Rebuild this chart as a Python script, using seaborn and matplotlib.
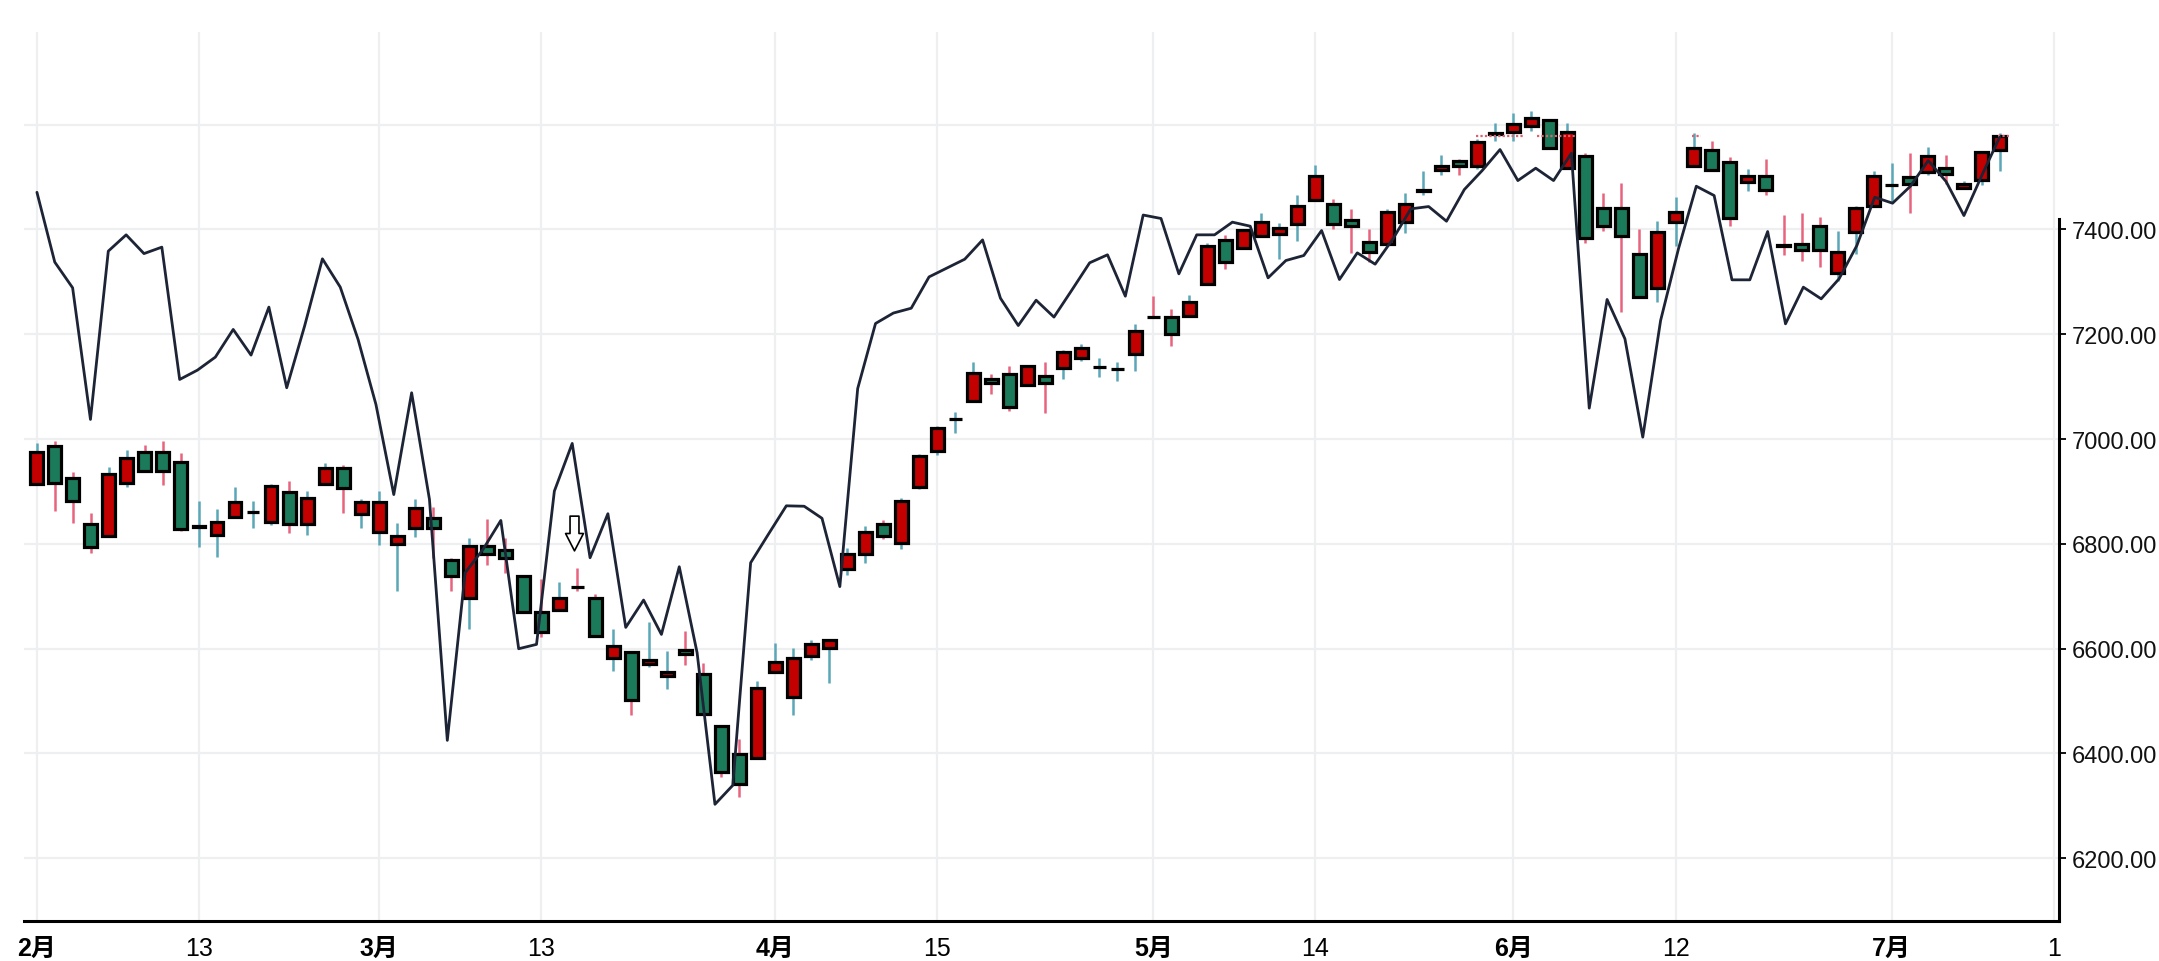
import numpy as np
import matplotlib
matplotlib.use("Agg")
import matplotlib.pyplot as plt
from matplotlib.path import Path
import seaborn as sns

# daily candles (red = up, green = down)
opens = [6914, 6986.5, 6925.5, 6837.7, 6814, 6916.5, 6975, 6975, 6956, 6833,
         6817, 6851.7, 6860.6, 6841.5, 6898.8, 6837.7, 6914, 6944.5, 6856.8, 6822.5,
         6799.5, 6830, 6849, 6769, 6695.8, 6795.6, 6788, 6737.7, 6669, 6673.5,
         6717, 6696.4, 6582, 6593.4, 6569.8, 6547, 6597.3, 6551.4, 6452, 6398.7,
         6391, 6554.6, 6508.2, 6584.9, 6600.2, 6752.8, 6779.7, 6837.9, 6801.9, 6908.5,
         6977.5, 7037.3, 7073.3, 7115.5, 7123.2, 7104, 7119.6, 7134.7, 7153.9, 7137,
         7133.2, 7161.5, 7232.5, 7232, 7235.2, 7296.9, 7380.2, 7365.6, 7388.5, 7391.7,
         7410.7, 7457.2, 7449.5, 7419, 7377, 7372.6, 7413.9, 7474.4, 7513.8, 7530.3,
         7520.8, 7583.1, 7585.7, 7598.4, 7609.2, 7517.6, 7541.2, 7441.9, 7441.3, 7353.5,
         7288.6, 7413.9, 7522.1, 7552.6, 7529.7, 7491.5, 7503, 7369.6, 7373.2, 7407.6,
         7316, 7395.5, 7445.7, 7485.2, 7499.8, 7510.6, 7518.2, 7479.4, 7495.3, 7552]
highs = [6992, 6995.5, 6938, 6858, 6946, 6980, 6988, 6995.5, 6972.5, 6881,
         6866, 6907.7, 6881, 6915, 6919, 6900, 6953.5, 6949.6, 6884.8, 6900,
         6839, 6884.7, 6869.4, 6773.4, 6812, 6846.5, 6812, 6737.7, 6732, 6728,
         6754.3, 6704.7, 6636.6, 6593.4, 6651.3, 6594.6, 6632.7, 6571.7, 6452, 6426.7,
         6537.4, 6609.9, 6601.8, 6617, 6615.6, 6792.7, 6834, 6845.6, 6887, 6971.4,
         7025, 7051.9, 7146.9, 7124.7, 7140, 7138.5, 7147.7, 7170.7, 7182.2, 7155.4,
         7147.7, 7219.8, 7273, 7248.5, 7275.2, 7373.9, 7389.8, 7399.9, 7431.7, 7412.7,
         7466.1, 7523.3, 7458.5, 7439.4, 7401.2, 7439.4, 7469.9, 7511.9, 7542.4, 7534.8,
         7573, 7603.5, 7622.6, 7627, 7609.2, 7603.5, 7546.2, 7469.9, 7489, 7401.2,
         7416.5, 7461.6, 7583.8, 7568.5, 7538, 7515.1, 7534.8, 7427.9, 7431.7, 7424.1,
         7397.4, 7445.7, 7511.9, 7527.2, 7546.2, 7557, 7542.4, 7493.4, 7548.8, 7584.4]
lows = [6914, 6862.5, 6840, 6783, 6814, 6908, 6939.5, 6912.7, 6823.7, 6793,
        6774, 6851.7, 6831, 6836.5, 6821, 6817.3, 6914, 6859.3, 6831, 6797,
        6709.8, 6813.5, 6773.4, 6709.8, 6637.9, 6759.4, 6744.7, 6669, 6622.7, 6673.5,
        6710.4, 6623.3, 6557, 6473, 6565.4, 6522.7, 6568, 6475, 6355.5, 6317.3,
        6391, 6554.6, 6472.9, 6578.8, 6533.5, 6739.8, 6762.8, 6808.8, 6789.6, 6903.9,
        6969, 7012, 7073.3, 7086.4, 7052.6, 7104, 7048.9, 7114, 7148.5, 7118.6,
        7110, 7129.3, 7232, 7176.7, 7235.2, 7296.9, 7325.5, 7365.6, 7388.5, 7344,
        7378.9, 7457.2, 7401.2, 7355.4, 7337.6, 7372.6, 7393.6, 7466.1, 7504.2, 7504.2,
        7515.7, 7569.2, 7569.2, 7588.2, 7555.8, 7517.6, 7374.5, 7397.4, 7242.2, 7270.2,
        7261.2, 7368.2, 7522.1, 7513.8, 7406.3, 7474.4, 7466.7, 7352.2, 7340.8, 7329.3,
        7301.3, 7352.9, 7445.7, 7452.1, 7432.4, 7504.9, 7487.1, 7479.4, 7485.8, 7511.9]
closes = [6975, 6916.5, 6882, 6794.5, 6933, 6963.6, 6939.5, 6939.5, 6828.8, 6833.3,
          6842, 6879.7, 6860.9, 6910, 6837.7, 6887.3, 6944.5, 6906.5, 6879.7, 6879.7,
          6814.8, 6868, 6829.4, 6737.7, 6795.6, 6780.4, 6772, 6669, 6631, 6696.4,
          6716.7, 6623.3, 6604.8, 6501, 6577.5, 6555, 6589, 6475, 6363.7, 6341.5,
          6524.7, 6574.3, 6581.8, 6607.9, 6615.6, 6779.7, 6821.8, 6814.2, 6882.4, 6967.5,
          7021.2, 7037.6, 7127, 7107.8, 7061.1, 7138.5, 7107.8, 7165.4, 7173, 7137.3,
          7133.5, 7206.8, 7232, 7200.8, 7262.5, 7369.4, 7338.2, 7399.9, 7415.2, 7403.7,
          7445.7, 7503, 7410.7, 7407.6, 7356.7, 7434.3, 7448.9, 7474.7, 7522.1, 7521.4,
          7567.9, 7583.4, 7602.2, 7613.7, 7555.8, 7586.9, 7384, 7406.9, 7388.5, 7270.2,
          7396.1, 7434.3, 7556.4, 7513.8, 7422.8, 7503, 7476.3, 7369.4, 7361.8, 7361.8,
          7357.9, 7441.9, 7503, 7485.5, 7487.7, 7541.2, 7506.8, 7487.1, 7548.8, 7579.3]

# overlay line (one point more than the candles, spread over the same span)
line_vals = [7471, 7337.7, 7288.7, 7037.4, 7358.7, 7389.8, 7354, 7366.3, 7113.7, 7131.6,
             7156.4, 7209.2, 7160.2, 7251.8, 7097.9, 7215.5, 7344, 7290, 7190, 7066,
             6894, 7088.3, 6884.7, 6424.8, 6744.8, 6789.3, 6844.6, 6599.7, 6608, 6900.6,
             6991.6, 6773.4, 6857.4, 6640.4, 6692.6, 6627, 6756.2, 6592, 6302.7, 6339,
             6763.8, 6818.5, 6872.5, 6871.7, 6848.7, 6718.3, 7096.4, 7220.6, 7240.5, 7249.7,
             7309.5, 7326.4, 7343.3, 7380.1, 7268.9, 7216.7, 7265, 7232.8, 7284.2, 7336.4,
             7351.7, 7272.7, 7427.6, 7421, 7315.3, 7389.8, 7389.8, 7414, 7406.3, 7307.7,
             7340.8, 7350.3, 7398, 7304.5, 7355.4, 7333.8, 7382.1, 7439.4, 7443.8, 7415.8,
             7476.3, 7512.5, 7552.6, 7493.4, 7517, 7493.4, 7545.6, 7059, 7266.4, 7191.3,
             7003.6, 7226.3, 7363, 7482.6, 7464.8, 7303.9, 7303.9, 7396.1, 7219.9, 7289.9,
             7267.6, 7305.8, 7369.4, 7461.6, 7450.2, 7482.6, 7531.6, 7491.5, 7426.6, 7503,
             7576.1]

tick_pos = [0, 9, 19, 28, 41, 50, 62, 71, 82, 91, 103, 112]
tick_labels = ['2月', '13', '3月', '13', '4月', '15', '5月', '14', '6月', '12', '7月', '1']
y_ticks = [6200, 6400, 6600, 6800, 7000, 7200, 7400]
marker_day = 30

UP = '#c20000'
DOWN = '#1b7a5a'
WICK_UP = '#5ba7b8'
WICK_DOWN = '#e8647e'

sns.set_style('white')
plt.rcParams['font.family'] = ['Liberation Sans Narrow', 'Liberation Sans', 'Noto Sans CJK SC', 'DejaVu Sans']

o = np.array(opens)
h = np.array(highs)
l = np.array(lows)
c = np.array(closes)
x = np.arange(len(o))
up = c >= o

fig = plt.figure(figsize=(21.59, 9.62), dpi=100)
ax = fig.add_axes([0.0111, 0.0416, 0.9426, 0.9241])

# grid
for yv in y_ticks + [7600]:
    ax.axhline(yv, color='#eeeff1', lw=1.6, zorder=0)
for xv in tick_pos:
    ax.axvline(xv, color='#eeeff1', lw=1.6, zorder=0)

# wicks and bodies
ax.vlines(x, l, h, colors=np.where(up, WICK_UP, WICK_DOWN), lw=1.8, zorder=2)
ax.bar(x, c - o, bottom=o, width=0.72, color=np.where(up, UP, DOWN),
       edgecolor='black', linewidth=2.3, zorder=3)

# line
line_x = np.linspace(0, len(o) - 1, len(line_vals))
sns.lineplot(x=line_x, y=line_vals, ax=ax, color='#1d2436', lw=2.0, zorder=4)

# last-close dotted price line (only fragments are visible)
for a, b in [(79.9, 82.6), (83.3, 85.4), (91.9, 92.4), (108.9, 109.5)]:
    ax.hlines(c[-1], a, b, colors='#e0606e', lw=1.6, linestyles=(0, (1, 1)), zorder=3)

# down arrow marker above one candle
arrow = Path([(-4.5, 17.5), (4.5, 17.5), (4.5, 0), (9, 0), (0, -17.5),
              (-9, 0), (-4.5, 0), (-4.5, 17.5)], closed=True)
ax.plot([marker_day - 0.2], [h[marker_day] + 66], marker=arrow, markersize=25,
        mfc='white', mec='black', mew=1.2, ls='none', zorder=5)

ax.set_xlim(-0.72, 112.3)
ax.set_ylim(6080, 7777)

ax.set_xticks(tick_pos)
ax.set_xticklabels(tick_labels)
for t in ax.get_xticklabels():
    if '月' in t.get_text():
        t.set_fontweight('bold')
ax.yaxis.tick_right()
ax.set_yticks(y_ticks)
ax.set_yticklabels([f'{v:.2f}' for v in y_ticks])
ax.tick_params(axis='x', length=6.5, width=1.4, pad=4, labelsize=18, colors='black')
ax.tick_params(axis='y', length=5, width=1.4, pad=4, labelsize=17, colors='#111111')

for s in ['left', 'top']:
    ax.spines[s].set_visible(False)
ax.spines['bottom'].set_linewidth(2.2)
ax.spines['right'].set_linewidth(2.2)
ax.spines['bottom'].set_color('black')
ax.spines['right'].set_color('black')
ax.spines['right'].set_bounds(6080, 7420)

ax.set_xlabel('')
ax.set_ylabel('')
fig.savefig('out.png', dpi=100)
